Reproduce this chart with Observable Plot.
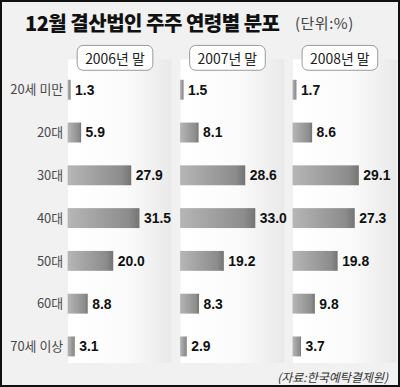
<!DOCTYPE html>
<html>
<head>
<meta charset="utf-8">
<script src="https://cdn.jsdelivr.net/npm/d3@7"></script>
<script src="https://cdn.jsdelivr.net/npm/@observablehq/plot@0.6"></script>
<style>
  html, body { margin: 0; padding: 0; background: #fff; }
  #wrap {
    position: relative; width: 400px; height: 387px; box-sizing: border-box;
    border: 2px solid #111; background: #f1f1f1; overflow: hidden;
    font-family: "Noto Sans CJK KR", "Noto Sans", sans-serif;
  }
  #title {
    position: absolute; left: 23px; top: 7px; font-size: 20px; font-weight: 900;
    color: #111; letter-spacing: -0.5px; white-space: nowrap; line-height: 28px;
  }
  #unit {
    position: absolute; left: 293px; top: 11px; font-size: 15px; color: #444;
    white-space: nowrap; line-height: 20px; letter-spacing: 0.5px;
  }
  #chart { position: absolute; left: -2px; top: 37px; }
  #caption {
    position: absolute; right: 10px; top: 367px; font-size: 12px; color: #333;
    font-style: italic; white-space: nowrap; line-height: 16px;
  }
</style>
</head>
<body>
<div id="wrap">
  <div id="title">12월 결산법인 주주 연령별 분포</div>
  <div id="unit">(단위:%)</div>
  <div id="chart"></div>
  <div id="caption">(자료:한국예탁결제원)</div>
</div>
<script>
const years = ["2006년 말", "2007년 말", "2008년 말"];
const ages = ["20세 미만", "20대", "30대", "40대", "50대", "60대", "70세 이상"];
const values2006 = [1.3, 5.9, 27.9, 31.5, 20.0, 8.8, 3.1];
const values2007 = [1.5, 8.1, 28.6, 33.0, 19.2, 8.3, 2.9];
const values2008 = [1.7, 8.6, 29.1, 27.3, 19.8, 9.8, 3.7];

const series = [values2006, values2007, values2008];
const data = years.flatMap((yr, i) => ages.map((a, j) => ({year: yr, age: a, value: series[i][j]})));

const plot = Plot.plot({
  width: 400,
  height: 326,
  marginLeft: 68,
  marginRight: 2,
  marginTop: 20,
  marginBottom: 0,
  style: {background: "transparent", fontFamily: "'Noto Sans CJK KR', sans-serif", fontSize: "13px", color: "#4a4a4a"},
  fx: {domain: years, paddingInner: 0.08, paddingOuter: 0, axis: null},
  x: {domain: [0, 45.4], axis: null},
  y: {domain: ages, range: [28.3, 331.7], paddingInner: 0.54, paddingOuter: 0.27, label: null, tickSize: 0, tickPadding: 5},
  marks: [
    Plot.frame({fill: "url(#panelGrad)", stroke: null}),
    Plot.barX(data, {fx: "year", y: "age", x: "value", fill: "url(#barGrad)"}),
    Plot.text(data, {fx: "year", y: "age", x: "value", text: d => d.value.toFixed(1), dx: 4, textAnchor: "start",
      fontWeight: "bold", fontSize: 14, fill: "#111", fontFamily: "'Liberation Sans', Arial, sans-serif"}),
    Plot.text(years, {fx: d => d, text: d => d, frameAnchor: "top", dx: -5, lineAnchor: "middle",
      fontSize: 14, fill: "#222"})
  ]
});

document.getElementById("chart").appendChild(plot);

const ns = "http://www.w3.org/2000/svg";
const defs = document.createElementNS(ns, "defs");
defs.innerHTML = `
  <linearGradient id="panelGrad" x1="0" x2="1" y1="0" y2="0">
    <stop offset="0" stop-color="#ffffff"/>
    <stop offset="0.55" stop-color="#fbfbfb"/>
    <stop offset="1" stop-color="#e9e9e9"/>
  </linearGradient>
  <linearGradient id="barGrad" x1="0" x2="1" y1="0" y2="0">
    <stop offset="0" stop-color="#b6b6b6"/>
    <stop offset="0.85" stop-color="#8c8c8c"/>
    <stop offset="1" stop-color="#747474"/>
  </linearGradient>`;
plot.insertBefore(defs, plot.firstChild);

// rounded boxes behind the year header labels
plot.querySelectorAll("text").forEach(t => {
  if (!years.includes(t.textContent)) return;
  const b = t.getBBox();
  const tr = t.getAttribute("transform");
  const cx = b.x + b.width / 2, cy = b.y + b.height / 2;
  const r = document.createElementNS(ns, "rect");
  r.setAttribute("x", cx - 38);
  r.setAttribute("y", cy - 12.5);
  r.setAttribute("width", 76);
  r.setAttribute("height", 25);
  r.setAttribute("rx", 6);
  r.setAttribute("fill", "#fff");
  r.setAttribute("stroke", "#999");
  r.setAttribute("stroke-width", 1);
  if (tr) r.setAttribute("transform", tr);
  t.parentNode.insertBefore(r, t);
});
</script>
</body>
</html>
